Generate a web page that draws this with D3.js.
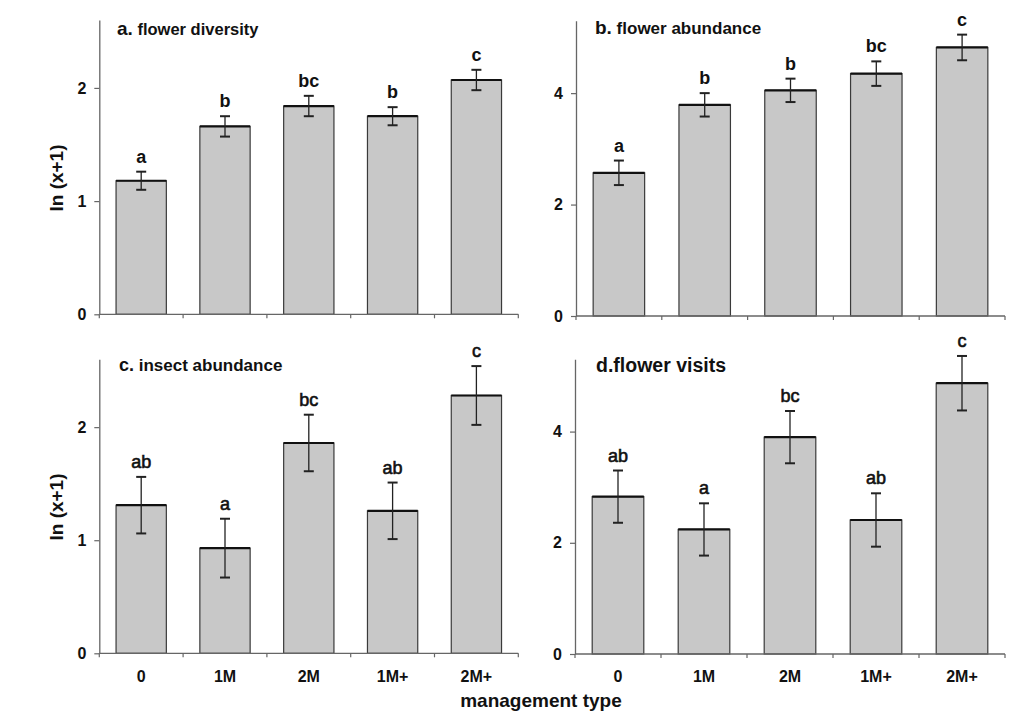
<!DOCTYPE html>
<html><head><meta charset="utf-8">
<script src="https://cdn.jsdelivr.net/npm/d3@7"></script>
<style>body{margin:0;background:#fff;} text{font-family:"Liberation Sans",Arial,sans-serif;}</style>
</head><body>
<svg id="c" width="1024" height="722"></svg>
<script>
const categories = ["0","1M","2M","1M+","2M+"];
const titles = ["a. flower diversity","b. flower abundance","c. insect abundance","d.flower visits"];
const diversityMean = [1.18,1.66,1.84,1.75,2.07];
const diversityErr  = [0.08,0.09,0.09,0.08,0.09];
const abundanceMean = [2.57,3.79,4.05,4.35,4.82];
const abundanceErr  = [0.22,0.21,0.21,0.22,0.23];
const insectMean = [1.31,0.93,1.86,1.26,2.28];
const insectErr  = [0.25,0.26,0.25,0.25,0.26];
const visitsMean = [2.83,2.24,3.90,2.41,4.87];
const visitsErr  = [0.47,0.47,0.47,0.48,0.49];
const diversityLetters = ["a","b","bc","b","c"];
const abundanceLetters = ["a","b","b","bc","c"];
const insectLetters = ["ab","a","bc","ab","c"];
const visitsLetters = ["ab","a","bc","ab","c"];
const ticksSmall = [0,1,2];
const ticksLarge = [0,2,4];

const panels = [
  {title:titles[0], mean:diversityMean, err:diversityErr, letters:diversityLetters, ymax:2.6, ticks:ticksSmall, x0:99.3, x1:518.3, y0:314.3, yt:20, tx:117, ty:35, xlab:false, ylab:178, bold:true, fs:16.5, fa:19},
  {title:titles[1], mean:abundanceMean, err:abundanceErr, letters:abundanceLetters, ymax:5.3, ticks:ticksLarge, x0:576, x1:1005, y0:316, yt:20.7, tx:595, ty:34, xlab:false, ylab:0, bold:true, fs:17, fa:19},
  {title:titles[2], mean:insectMean, err:insectErr, letters:insectLetters, ymax:2.6, ticks:ticksSmall, x0:99.3, x1:518.3, y0:653.3, yt:359.3, tx:119, ty:371, xlab:true, ylab:507, bold:false, fs:17, fa:18},
  {title:titles[3], mean:visitsMean, err:visitsErr, letters:visitsLetters, ymax:5.3, ticks:ticksLarge, x0:575, x1:1005, y0:654, yt:359.3, tx:596, ty:372, xlab:true, ylab:0, bold:false, fs:19.5, fa:19.5}
];

const svg = d3.select("#c");

panels.forEach(p => {
  const x = d3.scaleBand().domain(categories).range([p.x0, p.x1]).paddingInner(0.4).paddingOuter(0.2);
  const y = d3.scaleLinear().domain([0, p.ymax]).range([p.y0, p.yt]);
  const g = svg.append("g");

  // bars
  g.selectAll("rect.bar").data(categories).enter().append("rect")
    .attr("x", d => x(d)).attr("width", x.bandwidth())
    .attr("y", (d,i) => y(p.mean[i])).attr("height", (d,i) => p.y0 - y(p.mean[i]))
    .attr("fill", "#c8c8c8").attr("stroke", "#3a3a3a").attr("stroke-width", 1.2);
  // top edges
  g.selectAll("line.top").data(categories).enter().append("line")
    .attr("x1", d => x(d)).attr("x2", d => x(d) + x.bandwidth())
    .attr("y1", (d,i) => y(p.mean[i])).attr("y2", (d,i) => y(p.mean[i]))
    .attr("stroke", "#111").attr("stroke-width", 2.2);
  // error bars
  const cx = d => x(d) + x.bandwidth()/2;
  categories.forEach((d,i) => {
    const hi = y(p.mean[i] + p.err[i]), lo = y(p.mean[i] - p.err[i]);
    g.append("line").attr("x1", cx(d)).attr("x2", cx(d)).attr("y1", hi).attr("y2", lo).attr("stroke","#222").attr("stroke-width",1.3);
    [hi, lo].forEach(yy => g.append("line").attr("x1", cx(d)-5).attr("x2", cx(d)+5).attr("y1", yy).attr("y2", yy).attr("stroke","#222").attr("stroke-width",2));
    const lt = g.append("text").attr("x", cx(d)).attr("y", hi - 9).attr("text-anchor","middle")
      .attr("font-size", 18).attr("font-weight", p.bold ? "bold" : "normal").attr("fill","#111").text(p.letters[i]);
    if (!p.bold) lt.attr("stroke","#111").attr("stroke-width",0.6);
  });

  // y axis
  const ya = d3.axisLeft(y).tickValues(p.ticks).tickSize(5).tickSizeOuter(0).tickPadding(8).tickFormat(d3.format("d"));
  const yg = g.append("g").attr("transform", `translate(${p.x0},0)`).call(ya);
  yg.select(".domain").attr("stroke","#666").attr("stroke-width",1.3);
  yg.selectAll(".tick line").attr("stroke","#666").attr("stroke-width",1.2);
  yg.selectAll(".tick text").attr("font-size",16).attr("font-weight","bold").attr("fill","#111")
    .style("font-family","Liberation Sans, Arial, sans-serif");

  // x axis line and ticks at category boundaries
  g.append("line").attr("x1", p.x0).attr("x2", p.x1).attr("y1", p.y0).attr("y2", p.y0).attr("stroke","#666").attr("stroke-width",1.3);
  const bounds = d3.range(categories.length + 1).map(i => p.x0 + i * (p.x1 - p.x0) / categories.length);
  g.selectAll("line.xt").data(bounds).enter().append("line")
    .attr("x1", d => d).attr("x2", d => d).attr("y1", p.y0).attr("y2", p.y0 + 4).attr("stroke","#666").attr("stroke-width",1.2);
  if (p.xlab) {
    g.selectAll("text.xl").data(categories).enter().append("text")
      .attr("x", d => cx(d)).attr("y", 682).attr("text-anchor","middle")
      .attr("font-size",16).attr("font-weight","bold").attr("fill","#111").text(d => d);
  }

  // title
  const parts = p.title.match(/^([a-d]\.)(.*)$/);
  const t = g.append("text").attr("x", p.tx).attr("y", p.ty).attr("font-weight","bold").attr("fill","#111").attr("font-size", p.fs);
  t.append("tspan").attr("font-size", p.fa).text(parts[1]);
  t.append("tspan").text(parts[2]);

  if (p.ylab) {
    g.append("text").attr("transform", `translate(63,${p.ylab}) rotate(-90)`).attr("text-anchor","middle")
      .attr("font-size",19).attr("font-weight","bold").attr("fill","#111").text("ln (x+1)");
  }
});

svg.append("text").attr("x", 541).attr("y", 707).attr("text-anchor","middle")
  .attr("font-size",19).attr("font-weight","bold").attr("fill","#111").text("management type");
</script>
</body></html>
